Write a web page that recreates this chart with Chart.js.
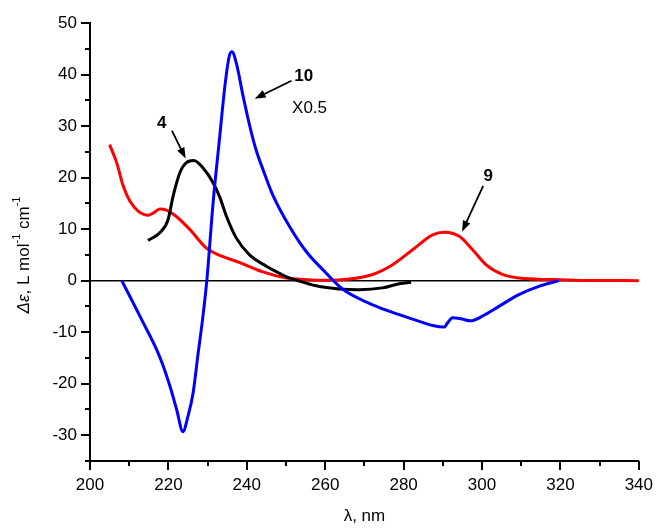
<!DOCTYPE html>
<html>
<head>
<meta charset="utf-8">
<script src="https://cdn.jsdelivr.net/npm/chart.js@4/dist/chart.umd.min.js"></script>
<style>
  body { margin: 0; background: #fff; }
</style>
</head>
<body>
<canvas id="cdChart" width="658" height="531"></canvas>
<script>
// CD spectra, wavelength (nm) vs delta epsilon
const wl9 = [205, 206.8, 208.5, 210.2, 212.3, 214.8, 216.1, 217.8, 219.5, 222.1, 225.5, 229.7, 232.2, 238.2, 244.1, 250.1, 252.6, 259.4, 266.2, 272.1, 277.2, 282.3, 287.4, 290.4, 294.2, 297.6, 301, 305.2, 309.4, 317.9, 325, 340];
const de9 = [26.4, 22.9, 18.3, 15.4, 13.5, 12.7, 13.1, 13.9, 13.7, 12.4, 9.9, 6.3, 5.2, 3.5, 1.7, 0.5, 0.3, 0.06, 0.3, 1.2, 3.1, 6.0, 8.9, 9.4, 8.6, 6.0, 3.1, 1.2, 0.5, 0.2, 0.05, 0];

const wl4 = [214.8, 217.8, 219.9, 221.2, 222.9, 224.6, 226.5, 228.8, 231.4, 233.1, 234.8, 237.3, 240.7, 245, 248.4, 250, 253.4, 257.7, 263.6, 268.7, 274.6, 278.9, 281.9];
const de4 = [7.8, 9.3, 11.8, 16.4, 20.9, 22.9, 23.3, 21.9, 19, 16.2, 12.5, 8.3, 5.0, 2.8, 1.4, 0.8, -0.1, -1.0, -1.6, -1.75, -1.4, -0.6, -0.3];

// compound 10 shown x0.5
const wl10 = [208.1, 211, 213.6, 217, 218.7, 220.4, 222.1, 223.7, 225, 226.3, 227.6, 228.7, 229.8, 231.4, 233.1, 234.4, 235.5, 236.2, 237.3, 239, 240.6, 242.2, 244.5, 246.7, 250.9, 255.2, 260.2, 263.6, 265.3, 272.1, 278.9, 284, 287.4, 290.4, 291.2, 292.5, 294.6, 297.1, 300.1, 304.3, 309.4, 314.5, 319.6];
const de10 = [0, -4.3, -8.2, -13.4, -16.6, -20.5, -25, -29.3, -26.3, -21.8, -14, -7.6, 0, 15.1, 28, 37.7, 43.5, 44.4, 42.3, 36, 30.5, 25.8, 20.8, 16.5, 10.5, 5.6, 1.5, -1.1, -2.1, -4.7, -6.6, -7.9, -8.7, -9.0, -8.2, -7.2, -7.4, -7.8, -6.9, -5, -2.7, -1.1, 0];

const baseWl = [200, 340];
const baseDe = [0, 0];

const xTickLabels = [200, 220, 240, 260, 280, 300, 320, 340];
const yTickLabels = [-30, -20, -10, 0, 10, 20, 30, 40, 50];

// labels and arrows, placed in data units
const notes = [
  { text: '4', x: 218.3, y: 30.5, bold: true, from: [220.9, 29.1], to: [224.4, 23.7] },
  { text: '10', x: 254.5, y: 39.6, bold: true, from: [251.4, 38.8], to: [242, 35.3] },
  { text: 'X0.5', x: 256, y: 33.4, bold: false },
  { text: '9', x: 301.6, y: 20.2, bold: true, from: [300.3, 18.4], to: [294.9, 9.5] }
];

const FONT = '"Liberation Sans", Arial, Helvetica, sans-serif';

function toPoints(xs, ys) {
  return xs.map((x, i) => ({ x: x, y: ys[i] }));
}

const axisTicks = {
  id: 'axisTicks',
  afterDraw(chart) {
    const ctx = chart.ctx;
    const xs = chart.scales.x, ys = chart.scales.y;
    ctx.save();
    ctx.strokeStyle = '#000';
    ctx.lineWidth = 2;
    ctx.beginPath();
    xs.ticks.forEach(t => {
      const px = Math.round(xs.getPixelForValue(t.value));
      const len = xTickLabels.includes(t.value) ? 9 : 5;
      ctx.moveTo(px, ys.bottom);
      ctx.lineTo(px, ys.bottom + len);
    });
    ys.ticks.forEach(t => {
      const py = Math.round(ys.getPixelForValue(t.value));
      const len = yTickLabels.includes(t.value) ? 9 : 5;
      ctx.moveTo(xs.left, py);
      ctx.lineTo(xs.left - len, py);
    });
    ctx.stroke();

    // y axis title with italic delta epsilon and superscripts
    ctx.translate(24, 255);
    ctx.rotate(-Math.PI / 2);
    ctx.fillStyle = '#000';
    ctx.textBaseline = 'middle';
    const parts = [
      { t: '\u0394\u03b5', f: 'italic 17px ' + FONT, dy: 0 },
      { t: ', L mol', f: '17px ' + FONT, dy: 0 },
      { t: '-1', f: '11px ' + FONT, dy: -7 },
      { t: ' cm', f: '17px ' + FONT, dy: 0 },
      { t: '-1', f: '11px ' + FONT, dy: -7 }
    ];
    let w = 0;
    parts.forEach(p => { ctx.font = p.f; w += ctx.measureText(p.t).width; });
    let cx = -w / 2;
    parts.forEach(p => {
      ctx.font = p.f;
      ctx.fillText(p.t, cx, p.dy);
      cx += ctx.measureText(p.t).width;
    });
    ctx.restore();

    // annotations
    ctx.save();
    ctx.fillStyle = '#000';
    ctx.strokeStyle = '#000';
    ctx.textAlign = 'center';
    ctx.textBaseline = 'middle';
    notes.forEach(n => {
      ctx.font = (n.bold ? 'bold ' : '') + '17px ' + FONT;
      ctx.fillText(n.text, xs.getPixelForValue(n.x), ys.getPixelForValue(n.y));
      if (!n.from) return;
      const x1 = xs.getPixelForValue(n.from[0]), y1 = ys.getPixelForValue(n.from[1]);
      const x2 = xs.getPixelForValue(n.to[0]), y2 = ys.getPixelForValue(n.to[1]);
      const a = Math.atan2(y2 - y1, x2 - x1);
      ctx.lineWidth = 1.8;
      ctx.beginPath();
      ctx.moveTo(x1, y1);
      ctx.lineTo(x2 - 8 * Math.cos(a), y2 - 8 * Math.sin(a));
      ctx.stroke();
      ctx.beginPath();
      ctx.moveTo(x2, y2);
      ctx.lineTo(x2 - 11 * Math.cos(a) + 4 * Math.sin(a), y2 - 11 * Math.sin(a) - 4 * Math.cos(a));
      ctx.lineTo(x2 - 11 * Math.cos(a) - 4 * Math.sin(a), y2 - 11 * Math.sin(a) + 4 * Math.cos(a));
      ctx.closePath();
      ctx.fill();
    });
    ctx.restore();
  }
};

const lineStyle = { pointRadius: 0, borderWidth: 3, fill: false, cubicInterpolationMode: 'monotone' };

const config = {
  type: 'line',
  data: {
    datasets: [
      Object.assign({ label: '10', data: toPoints(wl10, de10), borderColor: '#0000ff', order: 0 }, lineStyle),
      Object.assign({ label: '4', data: toPoints(wl4, de4), borderColor: '#000000', order: 1 }, lineStyle),
      Object.assign({ label: '9', data: toPoints(wl9, de9), borderColor: '#ff0000', order: 2 }, lineStyle),
      { label: 'zero', data: toPoints(baseWl, baseDe), borderColor: '#000000', borderWidth: 1.5, pointRadius: 0, order: 3 }
    ]
  },
  options: {
    responsive: false,
    animation: false,
    layout: { padding: { left: 0, top: 23, right: 18, bottom: 0 } },
    plugins: { legend: { display: false }, tooltip: { enabled: false } },
    scales: {
      x: {
        type: 'linear',
        min: 200,
        max: 340,
        grid: { display: false, drawTicks: true, tickLength: 9 },
        border: { display: true, color: '#000', width: 2 },
        ticks: {
          stepSize: 10,
          autoSkip: false,
          maxRotation: 0,
          padding: 5,
          color: '#000',
          font: { family: FONT, size: 17 },
          callback: v => xTickLabels.includes(v) ? v : ''
        },
        title: { display: true, text: '\u03bb, nm', color: '#000', font: { family: FONT, size: 17 }, padding: { top: 8 } },
        afterFit(scale) { scale.height = 70; }
      },
      y: {
        min: -35,
        max: 50,
        grid: { display: false, drawTicks: true, tickLength: 9 },
        border: { display: true, color: '#000', width: 2 },
        ticks: {
          stepSize: 5,
          autoSkip: false,
          padding: 4,
          color: '#000',
          font: { family: FONT, size: 17 },
          callback: v => yTickLabels.includes(v) ? v : ''
        },
        afterFit(scale) { scale.width = 90; }
      }
    }
  },
  plugins: [axisTicks]
};

const cdChart = new Chart(document.getElementById('cdChart'), config);
</script>
</body>
</html>
